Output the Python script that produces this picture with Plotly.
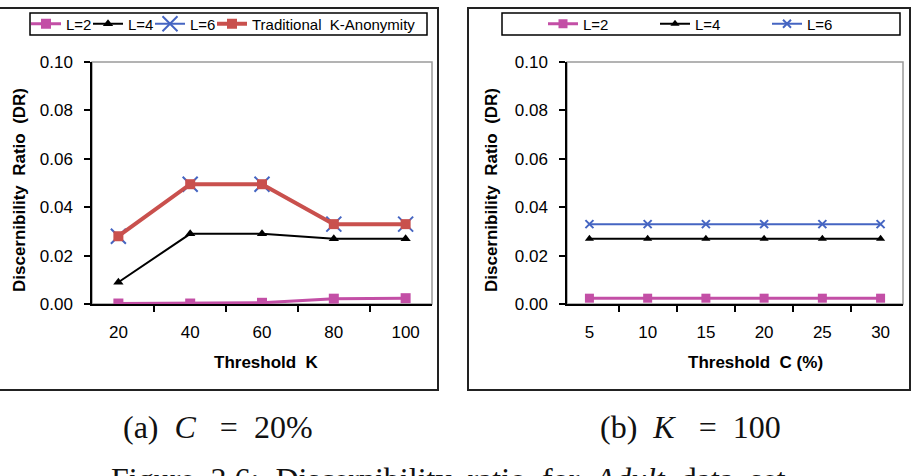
import plotly.graph_objects as go

W, H = 912, 476

# ---------------- data ----------------
k_labels = ["20", "40", "60", "80", "100"]
a_l2 = [0.0002, 0.0002, 0.0005, 0.0022, 0.0024]
a_l4 = [0.0090, 0.0290, 0.0290, 0.0270, 0.0270]
a_l6 = [0.0280, 0.0495, 0.0495, 0.0330, 0.0330]
a_trad = [0.0280, 0.0495, 0.0495, 0.0330, 0.0330]

c_labels = ["5", "10", "15", "20", "25", "30"]
b_l2 = [0.0024, 0.0024, 0.0024, 0.0024, 0.0024, 0.0024]
b_l4 = [0.0270, 0.0270, 0.0270, 0.0270, 0.0270, 0.0270]
b_l6 = [0.0330, 0.0330, 0.0330, 0.0330, 0.0330, 0.0330]

y_ticks = [0.0, 0.02, 0.04, 0.06, 0.08, 0.10]

PINK = "#C34FA6"
BLACK = "#000000"
BLUE = "#4565C2"
RED = "#C9504D"

SANS = "Liberation Sans, Arial, sans-serif"
SERIF = "Liberation Serif, Times New Roman, serif"


def px(x):
    return x / W


def py(y):
    return 1 - y / H


fig = go.Figure()

# each legend entry gets its own legend so it can sit where the reference puts it
# (name, x-values, y-values, axes, colour, line width, symbol, marker size, text start px)
series = [
    ("L=2", k_labels, a_l2, ("x", "y"), PINK, 3, "square", 10, 66),
    ("L=4", k_labels, a_l4, ("x", "y"), BLACK, 2, "triangle-up", 9, 128),
    ("L=6", k_labels, a_l6, ("x", "y"), BLUE, 2, "x-thin-open", 15, 190),
    ("Traditional  K-Anonymity", k_labels, a_trad, ("x", "y"), RED, 4, "square", 10, 252),
    ("L=2", c_labels, b_l2, ("x2", "y2"), PINK, 3, "square", 9, 583),
    ("L=4", c_labels, b_l4, ("x2", "y2"), BLACK, 2, "triangle-up", 8, 695),
    ("L=6", c_labels, b_l6, ("x2", "y2"), BLUE, 2, "x-thin-open", 8, 807),
]

legend_font = dict(family=SANS, size=15, color="#000000")
legend_layouts = {}

for i, (name, xs, ys, (xa_id, ya_id), col, lw, sym, ms, tx) in enumerate(series):
    lg = "legend" if i == 0 else f"legend{i + 1}"
    if sym.endswith("open"):
        marker = dict(symbol=sym, size=ms, color=col, line=dict(color=col, width=2))
    else:
        marker = dict(symbol=sym, size=ms, color=col)
    fig.add_trace(go.Scatter(x=xs, y=ys, name=name, mode="lines+markers",
                             line=dict(color=col, width=lw), marker=marker,
                             xaxis=xa_id, yaxis=ya_id, legend=lg))
    legend_layouts[lg] = dict(orientation="h", x=px(tx - 40), y=py(24),
                              xanchor="left", yanchor="middle",
                              xref="paper", yref="paper",
                              bgcolor="rgba(0,0,0,0)", borderwidth=0,
                              font=legend_font, itemwidth=30)

tick_font = dict(family=SANS, size=17, color="#000000")

xa = dict(type="category", showline=True, linecolor="black", linewidth=1.5,
          ticks="outside", ticklen=6, tickcolor="black", tickwidth=1.5,
          tickson="boundaries", showgrid=False, zeroline=False,
          tickfont=tick_font, ticklabelstandoff=12, fixedrange=True)
ya = dict(range=[0, 0.10], tickvals=y_ticks, tickformat=".2f",
          showline=True, linecolor="black", linewidth=1.5,
          ticks="outside", ticklen=6, tickcolor="black", tickwidth=1.5,
          showgrid=False, zeroline=False, tickfont=tick_font,
          ticklabelstandoff=8, fixedrange=True)

ydom = [py(304), py(62)]

shapes = [
    # outer panel frames
    dict(type="rect", xref="paper", yref="paper", x0=px(-2), x1=px(438),
         y0=py(390), y1=py(8), line=dict(color="#222222", width=2), layer="below"),
    dict(type="rect", xref="paper", yref="paper", x0=px(468), x1=px(910),
         y0=py(390), y1=py(8), line=dict(color="#222222", width=2), layer="below"),
    # legend boxes
    dict(type="rect", xref="paper", yref="paper", x0=px(30), x1=px(427),
         y0=py(35), y1=py(13), line=dict(color="black", width=1.5), layer="below"),
    dict(type="rect", xref="paper", yref="paper", x0=px(502), x1=px(900),
         y0=py(35), y1=py(13), line=dict(color="black", width=1.5), layer="below"),
    # plot-area outlines (gray)
    dict(type="rect", xref="x domain", yref="y domain", x0=0, x1=1, y0=0, y1=1,
         line=dict(color="#9a9a9a", width=1.5), layer="below"),
    dict(type="rect", xref="x2 domain", yref="y2 domain", x0=0, x1=1, y0=0, y1=1,
         line=dict(color="#9a9a9a", width=1.5), layer="below"),
]

title_font = dict(family=SANS, size=17, color="#000000")
cap_font = dict(family=SERIF, size=32, color="#111111")
NB = "\u00a0"
annotations = [
    dict(text="<b>Threshold  K</b>", x=px(266), y=py(362), xref="paper", yref="paper",
         showarrow=False, font=title_font, xanchor="center", yanchor="middle"),
    dict(text="<b>Threshold  C (%)</b>", x=px(755), y=py(362), xref="paper", yref="paper",
         showarrow=False, font=title_font, xanchor="center", yanchor="middle"),
    dict(text="<b>Discernibility  Ratio  (DR)</b>", x=px(19), y=py(190), xref="paper",
         yref="paper", showarrow=False, font=title_font, textangle=-90,
         xanchor="center", yanchor="middle"),
    dict(text="<b>Discernibility  Ratio  (DR)</b>", x=px(491), y=py(190), xref="paper",
         yref="paper", showarrow=False, font=title_font, textangle=-90,
         xanchor="center", yanchor="middle"),
    dict(text=f"(a){NB} <i>C</i>{NB}{NB} ={NB} 20%", x=px(218), y=py(427),
         xref="paper", yref="paper", showarrow=False, font=cap_font,
         xanchor="center", yanchor="middle"),
    dict(text=f"(b){NB} <i>K</i>{NB}{NB} ={NB} 100", x=px(690), y=py(427),
         xref="paper", yref="paper", showarrow=False, font=cap_font,
         xanchor="center", yanchor="middle"),
    dict(text=(f"Figure{NB} 3.6:{NB} Discernibility{NB} ratio{NB} for{NB} <i>Adult</i>"
               f"{NB} data{NB} set."),
         x=px(452), y=py(479), xref="paper", yref="paper",
         showarrow=False, font=cap_font, xanchor="center", yanchor="middle"),
]

fig.update_layout(
    width=W, height=H,
    margin=dict(l=0, r=0, t=0, b=0, autoexpand=False),
    paper_bgcolor="white", plot_bgcolor="white",
    xaxis=dict(xa, domain=[px(92), px(432)], anchor="y"),
    yaxis=dict(ya, domain=ydom, anchor="x"),
    xaxis2=dict(xa, domain=[px(567), px(903)], anchor="y2"),
    yaxis2=dict(ya, domain=ydom, anchor="x2"),
    shapes=shapes,
    annotations=annotations,
    showlegend=True,
    **legend_layouts,
)

fig.write_html("out.html")
